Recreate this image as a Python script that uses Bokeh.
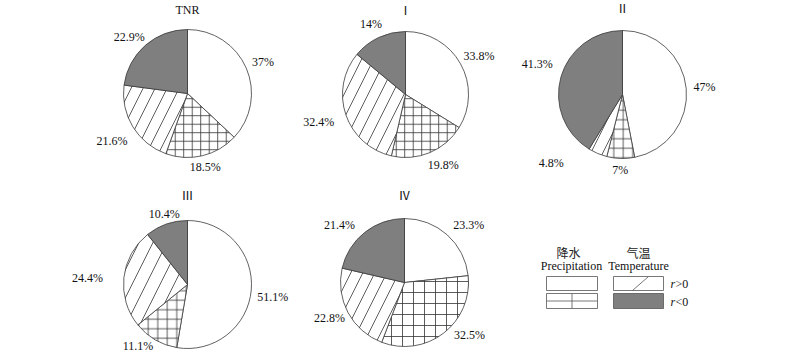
import math
from bokeh.plotting import figure
from bokeh.models import Range1d, ColumnDataSource
from bokeh.core.properties import value
from bokeh.embed import file_html
from bokeh.resources import INLINE

# ---------------- data ----------------
pies = ["TNR", "Ⅰ", "Ⅱ", "Ⅲ", "Ⅳ"]
# order clockwise from 12 o'clock: Precip r>0, Precip r<0, Temp r>0, Temp r<0
precip_pos = [37.0, 33.8, 47.0, 51.1, 23.3]
precip_neg = [18.5, 19.8, 7.0, 11.1, 32.5]
temp_pos = [21.6, 32.4, 4.8, 24.4, 22.8]
temp_neg = [22.9, 14.0, 41.3, 10.4, 21.4]
labels = [["37%", "18.5%", "21.6%", "22.9%"],
          ["33.8%", "19.8%", "32.4%", "14%"],
          ["47%", "7%", "4.8%", "41.3%"],
          ["51.1%", "11.1%", "24.4%", "10.4%"],
          ["23.3%", "32.5%", "22.8%", "21.4%"]]

# ---------------- layout (pixel, top-based) ----------------
W, H = 800, 353
centers = [(187, 93), (405, 94), (622, 94), (187, 284), (404, 282)]
radius = [64, 63, 64, 64, 64]
title_y = [9, 10, 8, 195, 195]
grid_scale = [8.5, 8.5, 9.5, 9.5, 11.0]
diag_scale = [24, 24, 24, 28, 24]
# (dx, dy) label nudges in pixels, dy positive = down
label_nudge = {
    (0, 1): (-3, -3), (0, 2): (0, 6), (0, 3): (0, 3),
    (1, 0): (-3, 0), (1, 1): (4, -1), (1, 2): (-4, 2),
    (2, 1): (0, -3), (2, 2): (-38, -4), (2, 3): (0, -9),
    (3, 0): (-3, 6), (3, 1): (-5, -7), (3, 2): (-12, 2), (3, 3): (6, 4),
    (4, 0): (5, 1), (4, 1): (11, -10), (4, 2): (3, -2), (4, 3): (-10, 4),
}

SERIF = value("Liberation Serif")
TITLE_FONT = value("'Liberation Serif', 'Noto Sans CJK SC', serif")
GREY = "#7f7f7f"
EDGE = "#3a3a3a"

p = figure(width=W, height=H, x_range=Range1d(0, W), y_range=Range1d(0, H),
           output_backend="svg", toolbar_location=None, min_border=0)
p.axis.visible = False
p.grid.visible = False
p.outline_line_color = None
p.background_fill_color = "white"

def Y(y):
    return H - y

wx, wy, wr, ws, we, fill, hp, hs = [], [], [], [], [], [], [], []
tx, ty, tt = [], [], []
for i in range(len(pies)):
    vals = [precip_pos[i], precip_neg[i], temp_pos[i], temp_neg[i]]
    tot = sum(vals)
    cx, cy = centers[i]
    r = radius[i]
    cum = 0.0
    for j, v in enumerate(vals):
        a0 = 90 - cum / tot * 360
        cum += v
        a1 = 90 - cum / tot * 360
        wx.append(cx); wy.append(Y(cy)); wr.append(r)
        ws.append(a0); we.append(a1)
        fill.append(GREY if j == 3 else "white")
        hp.append(["", "+", "/", ""][j])
        hs.append([1, grid_scale[i], diag_scale[i], 1][j])
        mid = math.radians((a0 + a1) / 2)
        lab = labels[i][j]
        w = 6.2 * len(lab)
        h = 12
        d = r + 9
        lx = cx + (d + w / 2) * math.cos(mid)
        ly = Y(cy) + (d + h / 2) * math.sin(mid)
        nx, ny = label_nudge.get((i, j), (0, 0))
        tx.append(lx + nx); ty.append(ly - ny); tt.append(lab)

src = ColumnDataSource(dict(x=wx, y=wy, r=wr, s=ws, e=we, fill=fill, hp=hp, hs=hs))
p.wedge(x="x", y="y", radius="r", start_angle="s", end_angle="e",
        start_angle_units="deg", end_angle_units="deg", direction="clock",
        fill_color="fill", line_color=EDGE, line_width=0.8,
        hatch_pattern="hp", hatch_scale="hs", hatch_color="#333333",
        hatch_weight=0.8, source=src)

p.text(x=tx, y=ty, text=tt, text_font=SERIF, text_font_size="12px",
       text_align="center", text_baseline="middle", text_color="#111111")

# titles
p.text(x=[c[0] for c in centers], y=[Y(v) for v in title_y], text=pies,
       text_font=TITLE_FONT, text_font_size="12px", text_align="center",
       text_baseline="middle", text_color="#111111")

# ---------------- legend ----------------
p.text(x=[568, 638], y=[Y(252), Y(252)], text=["降水", "气温"],
       text_font=value("Noto Sans CJK SC"), text_font_size="12px",
       text_align="center", text_baseline="middle", text_color="#222222")
p.text(x=[571, 638], y=[Y(265), Y(265)], text=["Precipitation", "Temperature"],
       text_font=SERIF, text_font_size="12px", text_align="center",
       text_baseline="middle", text_color="#111111")
# boxes
p.quad(left=[546, 546, 613], right=[597, 597, 663],
       top=[Y(276), Y(293), Y(276)], bottom=[Y(290), Y(308), Y(290)],
       fill_color="white", line_color="#555555", line_width=0.8)
p.quad(left=[613], right=[663], top=[Y(293)], bottom=[Y(308)],
       fill_color=GREY, line_color="#555555", line_width=0.8)
p.segment(x0=[546, 571.5, 632], y0=[Y(300.5), Y(293), Y(290)],
          x1=[597, 571.5, 648], y1=[Y(300.5), Y(308), Y(276)],
          line_color="#555555", line_width=0.8)
p.text(x=[670, 670], y=[Y(283), Y(301)], text=["r", "r"], text_font=SERIF,
       text_font_style="italic", text_font_size="12px", text_align="left",
       text_baseline="middle", text_color="#111111")
p.text(x=[675, 675], y=[Y(283), Y(301)], text=[">0", "<0"], text_font=SERIF,
       text_font_size="12px", text_align="left", text_baseline="middle",
       text_color="#111111")

open("out.html", "w").write(file_html(p, INLINE))
